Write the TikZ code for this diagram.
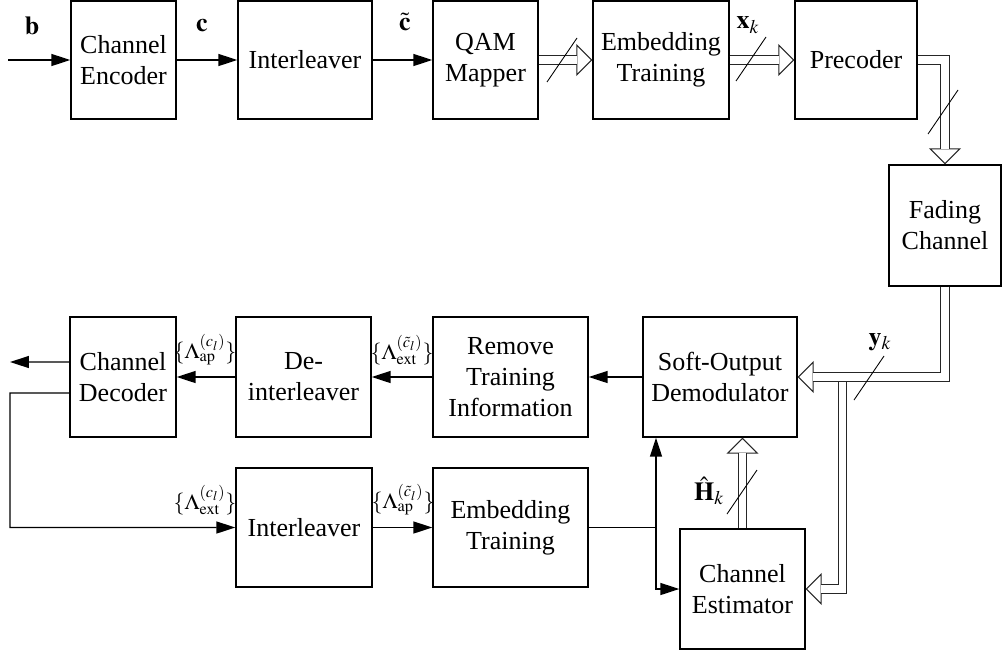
\documentclass[tikz,border=0pt]{standalone}
\usepackage{mathptmx}
\usepackage{fontspec}
\setmainfont{Liberation Serif}
\usetikzlibrary{arrows.meta}

\newcommand{\busmark}[1]{\draw[bus] (#1) ++(-15,22) -- ++(30,-44);}

\begin{document}
\begin{tikzpicture}[x=0.02cm,y=-0.02cm,
	font=\fontsize{14.8}{17.6}\selectfont,
	block/.style={draw,line width=0.8pt,align=center,inner sep=0pt},
	arr/.style={line width=0.8pt,-{Triangle[length=0.38cm,width=0.24cm]}},
	pipe/.style={draw=black!85,line width=0.6pt,double=white,double distance=4.4pt},
	hollow/.style={draw=black!85,line width=0.6pt,-{Triangle[open,length=0.32cm,width=0.64cm,fill=white]}},
	bus/.style={line width=0.5pt},
	lam/.style={inner sep=0pt,font=\fontsize{12.5}{15}\selectfont}]
		
		\useasboundingbox (0,0) rectangle (1003,653);
		
		% transmitter
		\node[block,minimum width=2.1cm,minimum height=2.36cm] (enc) at (123.5,60) {Channel\\Encoder};
		\node[block,minimum width=2.68cm,minimum height=2.36cm] (int1) at (305,60) {Interleaver};
		\node[block,minimum width=2.1cm,minimum height=2.36cm] (qam) at (485.5,60) {QAM\\Mapper};
		\node[block,minimum width=2.72cm,minimum height=2.36cm] (emb1) at (661,60) {Embedding\\Training};
		\node[block,minimum width=2.44cm,minimum height=2.36cm] (pre) at (856,60) {Precoder};
		\node[block,minimum width=2.24cm,minimum height=2.42cm] (fad) at (945,225.5) {Fading\\Channel};
		
		% receiver
		\node[block,minimum width=3.08cm,minimum height=2.4cm] (sod) at (720,377) {Soft-Output\\Demodulator};
		\node[block,minimum width=3.1cm,minimum height=2.4cm] (rem) at (510.5,377) {Remove\\Training\\Information};
		\node[block,minimum width=2.7cm,minimum height=2.4cm] (deint) at (303.5,377) {De-\\interleaver};
		\node[block,minimum width=2.12cm,minimum height=2.4cm] (dec) at (123,377) {Channel\\Decoder};
		\node[block,minimum width=2.72cm,minimum height=2.38cm] (int2) at (304,527.5) {Interleaver};
		\node[block,minimum width=3.1cm,minimum height=2.38cm] (emb2) at (510.5,527.5) {Embedding\\Training};
		\node[block,minimum width=2.5cm,minimum height=2.4cm] (est) at (742.5,589) {Channel\\Estimator};
		
		\coordinate (bin) at (8,60);
		\coordinate (dout) at (10,362);
		\coordinate (fbl) at (10,393);
		\coordinate (jn) at (656,527.5);
		\coordinate (ysplit) at (842.5,382);
		
		% single lines
		\draw[arr] (bin) -- (enc.west);
		\draw[arr] (enc.east) -- (int1.west);
		\draw[arr] (int1.east) -- (qam.west);
		\draw[arr] (sod.west) -- (rem.east);
		\draw[arr] (rem.west) -- (deint.east);
		\draw[arr] (deint.west) -- (dec.east);
		\draw[arr] ([yshift=0.3cm]dec.west) -- (dout);
		\draw[arr] ([yshift=-0.32cm]dec.west) -- (fbl) |- (int2.west);
		\draw[arr] (int2.east) -- (emb2.west);
		\draw[line width=0.8pt] (emb2.east) -- (jn);
		\draw[arr] (jn) -- (jn |- sod.south);
		\draw[arr] (jn) |- (est.west);
		
		% vector lines
		\draw[hollow] (qam.east) -- (emb1.west);
		\draw[pipe,shorten >=0.3cm] (qam.east) -- (emb1.west);
		\draw[hollow] (emb1.east) -- (pre.west);
		\draw[pipe,shorten >=0.3cm] (emb1.east) -- (pre.west);
		\draw[hollow] (pre.east) -| (fad.north);
		\draw[pipe,shorten >=0.3cm] (pre.east) -| (fad.north);
		\draw[hollow] (ysplit) |- (est.east);
		\draw[pipe,shorten >=0.3cm] (ysplit) |- (est.east);
		\draw[hollow] (fad.south) |- (sod.east);
		\draw[pipe,shorten >=0.3cm] (fad.south) |- (sod.east);
		\draw[hollow] (est.north) -- (est.north |- sod.south);
		\draw[pipe,shorten >=0.3cm] (est.north) -- (est.north |- sod.south);
		
		\coordinate (s1) at (562,60);
		\coordinate (s2) at (751,59);
		\coordinate (s3) at (943,112);
		\coordinate (s4) at (869,378);
		\coordinate (s5) at (742,492);
		\foreach \s in {s1,s2,s3,s4,s5}
		{\busmark{\s}}
		
		% labels
		\node (lb) at (32,26) {$\mathbf{b}$};
		\node (lc) at (202,26) {$\mathbf{c}$};
		\node (lct) at (405,22) {$\tilde{\mathbf{c}}$};
		\node (lx) at (748,25) {$\mathbf{x}_k$};
		\node (ly) at (880,342) {$\mathbf{y}_k$};
		\node (lh) at (709,491) {$\hat{\mathbf{H}}_k$};
		\node[lam] (lap1) at (205,350) {$\{\Lambda^{(c_l)}_{\mathrm{ap}}\}$};
		\node[lam] (lext1) at (402,350) {$\{\Lambda^{(\tilde{c}_l)}_{\mathrm{ext}}\}$};
		\node[lam] (lext2) at (205,500) {$\{\Lambda^{(c_l)}_{\mathrm{ext}}\}$};
		\node[lam] (lap2) at (403,500) {$\{\Lambda^{(\tilde{c}_l)}_{\mathrm{ap}}\}$};
	\end{tikzpicture}
\end{document}
